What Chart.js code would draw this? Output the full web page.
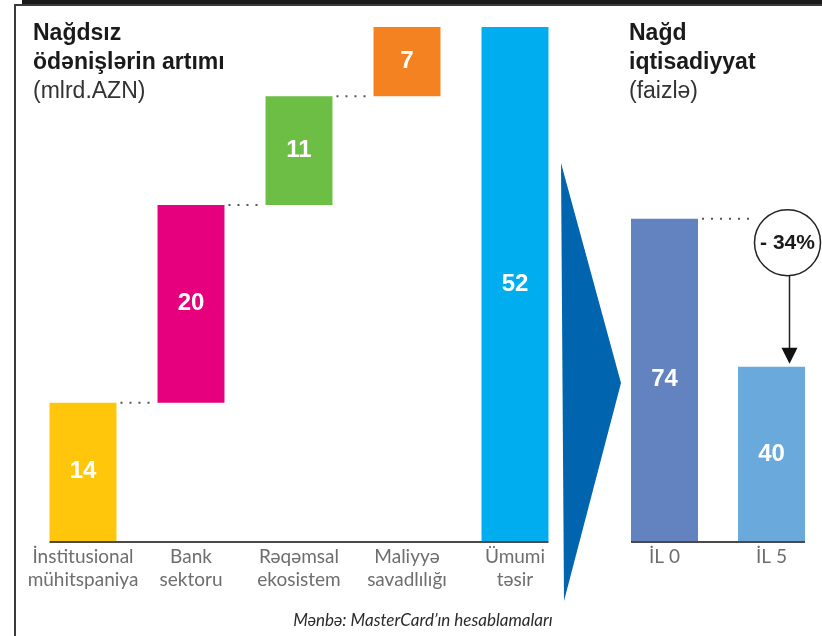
<!DOCTYPE html>
<html>
<head>
<meta charset="utf-8">
<script src="https://cdn.jsdelivr.net/npm/chart.js@4"></script>
<style>
  html, body { margin: 0; padding: 0; background: #fff; }
  body { width: 822px; height: 636px; position: relative; overflow: hidden; font-family: "Liberation Sans", Arial, sans-serif; }
  .topbar { position: absolute; left: 22px; top: 0; width: 800px; height: 5px; background: #1a1a1a; }
  .frame { position: absolute; left: 14px; top: 4px; width: 820px; height: 640px; border-left: 2px solid #3a3a3a; border-top: 2px solid #3a3a3a; }
  .title { position: absolute; top: 18px; font-size: 23px; line-height: 29px; color: #1a1a1a; }
  .title b { font-weight: bold; }
  .title span { font-weight: normal; color: #333; }
  .source { position: absolute; left: 0; width: 846px; top: 609px; text-align: center; font-family: Lato, sans-serif; font-style: italic; font-size: 17px; color: #2a2a2a; }
  #leftWrap { position: absolute; left: 0; top: 0; width: 600px; height: 636px; }
  #rightWrap { position: absolute; left: 600px; top: 0; width: 230px; height: 636px; }
  svg.arrow { position: absolute; left: 0; top: 0; }
</style>
</head>
<body>
<div class="topbar"></div>
<div class="frame"></div>
<div id="leftWrap"><canvas id="leftChart" width="600" height="636"></canvas></div>
<div id="rightWrap"><canvas id="rightChart" width="230" height="636"></canvas></div>
<svg class="arrow" width="822" height="636"><polygon points="561,163 621,383 564,601" fill="#0064AF"/></svg>
<div class="title" style="left:33px"><b>Nağdsız<br>ödənişlərin artımı</b><br><span>(mlrd.AZN)</span></div>
<div class="title" style="left:629px"><b>Nağd<br>iqtisadiyyat</b><br><span>(faizlə)</span></div>
<div class="source">Mənbə: MasterCard’ın hesablamaları</div>

<script>
// left: growth of cashless payments, bn AZN
const growthLabels = [["İnstitusional", "mühitspaniya"], ["Bank", "sektoru"], ["Rəqəmsal", "ekosistem"], ["Maliyyə", "savadlılığı"], ["Ümumi", "təsir"]];
const growthSteps = [14, 20, 11, 7];
const growthTotal = 52;
const growthColors = ["#FFC60B", "#E6007E", "#6DBE45", "#F58220", "#00AEEF"];

// right: cash economy, percent
const cashLabels = ["İL 0", "İL 5"];
const cashValues = [74, 40];
const cashChange = "- 34%";
const cashColors = ["#6283C0", "#6AA9DB"];

function waterfall(steps, total) {
  const out = [];
  let acc = 0;
  steps.forEach(v => { out.push([acc, acc + v]); acc += v; });
  out.push([0, total]);
  return out;
}

const valueText = {
  id: "valueText",
  afterDatasetsDraw(chart, args, opts) {
    const ctx = chart.ctx;
    const meta = chart.getDatasetMeta(0);
    const area = chart.chartArea;
    ctx.save();
    // baseline only under the bars
    const first = meta.data[0], last = meta.data[meta.data.length - 1];
    ctx.strokeStyle = "#4a4a4a";
    ctx.lineWidth = 2;
    ctx.beginPath();
    ctx.moveTo(first.x - first.width / 2, area.bottom + 1);
    ctx.lineTo(last.x + last.width / 2, area.bottom + 1);
    ctx.stroke();
    // dotted connectors
    if (opts.connectors) {
      ctx.setLineDash([2, 7]);
      ctx.strokeStyle = "#555";
      ctx.lineWidth = 2;
      for (let i = 0; i < meta.data.length - 2; i++) {
        const a = meta.data[i], b = meta.data[i + 1];
        ctx.beginPath();
        ctx.moveTo(a.x + a.width / 2 + 4, a.y);
        ctx.lineTo(b.x - b.width / 2 - 2, a.y);
        ctx.stroke();
      }
      ctx.setLineDash([]);
    }
    ctx.fillStyle = "#fff";
    ctx.font = "bold 24px 'Liberation Sans', Arial, sans-serif";
    ctx.textAlign = "center";
    ctx.textBaseline = "middle";
    meta.data.forEach((bar, i) => {
      ctx.fillText(opts.labels[i], bar.x, (bar.y + bar.base) / 2);
    });
    ctx.restore();
  }
};

const changeMark = {
  id: "changeMark",
  afterDatasetsDraw(chart) {
    const ctx = chart.ctx;
    const meta = chart.getDatasetMeta(0);
    const a = meta.data[0], b = meta.data[1];
    const cx = b.x + 16, cy = a.y + 24, r = 33;
    ctx.save();
    ctx.setLineDash([2, 7]);
    ctx.strokeStyle = "#555";
    ctx.lineWidth = 2;
    ctx.beginPath();
    ctx.moveTo(a.x + a.width / 2 + 4, a.y);
    ctx.lineTo(cx - r, a.y);
    ctx.stroke();
    ctx.setLineDash([]);
    ctx.strokeStyle = "#222";
    ctx.lineWidth = 1.5;
    ctx.beginPath();
    ctx.moveTo(cx + 2, cy + r);
    ctx.lineTo(cx + 2, b.y - 18);
    ctx.stroke();
    ctx.fillStyle = "#111";
    ctx.beginPath();
    ctx.moveTo(cx - 6, b.y - 19);
    ctx.lineTo(cx + 10, b.y - 19);
    ctx.lineTo(cx + 2, b.y - 3);
    ctx.closePath();
    ctx.fill();
    ctx.fillStyle = "#fff";
    ctx.beginPath();
    ctx.arc(cx, cy, r, 0, Math.PI * 2);
    ctx.fill();
    ctx.stroke();
    ctx.fillStyle = "#1a1a1a";
    ctx.font = "bold 21px 'Liberation Sans', Arial, sans-serif";
    ctx.textAlign = "center";
    ctx.textBaseline = "middle";
    ctx.fillText(cashChange, cx, cy + 1);
    ctx.restore();
  }
};

function xAxis() {
  return {
    offset: true,
    grid: { display: false, drawTicks: false },
    border: { display: false },
    ticks: { color: "#6e6e6e", padding: 4, maxRotation: 0, autoSkip: false, font: { family: "Lato", size: 19, lineHeight: 1.21 } }
  };
}

Chart.defaults.animation = false;

new Chart(document.getElementById("leftChart"), {
  type: "bar",
  data: {
    labels: growthLabels,
    datasets: [{ data: waterfall(growthSteps, growthTotal), backgroundColor: growthColors, barPercentage: 0.62, categoryPercentage: 1 }]
  },
  options: {
    responsive: false,
    layout: { padding: { left: 29, right: 31, top: 27, bottom: 41 } },
    plugins: {
      legend: { display: false },
      tooltip: { enabled: false },
      valueText: { labels: growthSteps.concat([growthTotal]), connectors: true }
    },
    scales: {
      x: xAxis(),
      y: { display: false, min: 0, max: growthTotal }
    }
  },
  plugins: [valueText]
});

new Chart(document.getElementById("rightChart"), {
  type: "bar",
  data: {
    labels: cashLabels,
    datasets: [{ data: cashValues, backgroundColor: cashColors, barPercentage: 0.626, categoryPercentage: 1 }]
  },
  options: {
    responsive: false,
    layout: { padding: { left: 11, right: 5, top: 27, bottom: 64 } },
    plugins: {
      legend: { display: false },
      tooltip: { enabled: false },
      valueText: { labels: cashValues, connectors: false }
    },
    scales: {
      x: xAxis(),
      y: { display: false, min: 0, max: 118 }
    }
  },
  plugins: [valueText, changeMark]
});
</script>
</body>
</html>
